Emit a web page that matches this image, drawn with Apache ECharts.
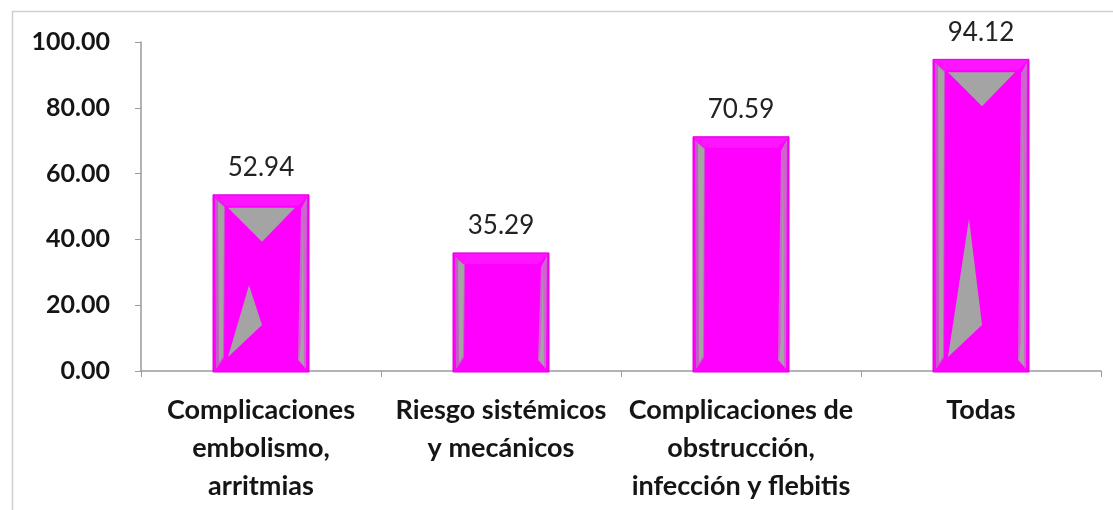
<!DOCTYPE html>
<html><head><meta charset="utf-8">
<script src="https://cdn.jsdelivr.net/npm/echarts@6/dist/echarts.min.js"></script>
<style>html,body{margin:0;padding:0;background:#fff}#c{width:1113px;height:510px}</style>
</head><body><div id="c"></div>
<script>
const categories = ['Complicaciones\nembolismo,\narritmias', 'Riesgo sistémicos\ny mecánicos', 'Complicaciones de\nobstrucción,\ninfección y flebitis', 'Todas'];
const values = [52.94, 35.29, 70.59, 94.12];
const yTicks = [0, 20, 40, 60, 80, 100];
const FONT = 'Lato';

const chart = echarts.init(document.getElementById('c'), null, {renderer: 'canvas'});

function renderItem(params, api) {
  const i = api.value(0);
  const v = api.value(1);
  const base = api.coord([i, 0]);
  const top = api.coord([i, v]);
  const bw = api.size([1, 0])[0] * 0.4;
  const x0 = base[0] - bw / 2, x1 = base[0] + bw / 2;
  const yb = base[1] + 1, yt = top[1] - 2;
  const h = yb - yt;
  const children = [
    {type: 'rect', shape: {x: x0, y: yt, width: bw, height: h}, style: {fill: '#ff00ff', stroke: '#e000e0', lineWidth: 1}},
    {type: 'polygon', shape: {points: [[x0 + 2, yt + 3], [x0 + 12, yt + 12], [x0 + 11, yb - 14], [x0 + 3, yb - 3]]}, style: {fill: '#c45cc4'}},
    {type: 'polygon', shape: {points: [[x0 + 5, yt + 7], [x0 + 11, yt + 12], [x0 + 10, yb - 16], [x0 + 6, yb - 9]]}, style: {fill: '#a4a4a4'}},
    {type: 'polygon', shape: {points: [[x1 - 2, yt + 3], [x1 - 8, yt + 14], [x1 - 11, yb - 12], [x1 - 3, yb - 3]]}, style: {fill: '#cc66cc'}},
    {type: 'polygon', shape: {points: [[x1 - 6, yt + 14], [x1 - 8, yb - 30], [x1 - 10, yb - 12], [x1 - 5, yb - 6]]}, style: {fill: '#a4a4a4'}},
    {type: 'polygon', shape: {points: [[x0 + 1, yt + 1], [x1 - 1, yt + 1], [x1 - 11, yt + 11], [x0 + 12, yt + 11]]}, style: {fill: '#ff14ff'}}
  ];
  if (i === 0 || i === 3) {
    children.push({type: 'polygon', shape: {points: [[x0 + 15, yt + 13], [x1 - 14, yt + 13], [(x0 + x1) / 2 + 1, yt + 47]]}, style: {fill: '#a4a4a4'}});
    children.push({type: 'polygon', shape: {points: [[x0 + 15, yb - 15], [x0 + 36, yb - h * 0.49], [(x0 + x1) / 2 + 1, yb - 47]]}, style: {fill: '#a4a4a4'}});
  }
  return {type: 'group', children: children};
}

chart.setOption({
  animation: false,
  backgroundColor: '#ffffff',
  graphic: [{type: 'rect', shape: {x: 12.5, y: 11.5, width: 1200, height: 600}, style: {fill: 'none', stroke: '#cfcfcf', lineWidth: 1.5}, silent: true}],
  grid: {left: 141, right: 12, top: 42, bottom: 139, containLabel: false},
  xAxis: {
    type: 'category', data: categories,
    axisLine: {lineStyle: {color: '#9a9a9a', width: 1.5}},
    axisTick: {show: true, length: 6, lineStyle: {color: '#9a9a9a'}},
    axisLabel: {fontFamily: FONT, fontWeight: 'bold', fontSize: 27, color: '#151515', lineHeight: 38, margin: 20, interval: 0}
  },
  yAxis: {
    type: 'value', min: 0, max: 100, interval: 20,
    axisLine: {show: true, lineStyle: {color: '#9a9a9a', width: 1.5}},
    axisTick: {show: true, length: 6, lineStyle: {color: '#9a9a9a'}},
    splitLine: {show: false},
    axisLabel: {fontFamily: FONT, fontWeight: 'bold', fontSize: 25, color: '#151515', margin: 31,
      formatter: v => yTicks.includes(v) ? v.toFixed(2) : ''}
  },
  series: [{
    type: 'custom',
    renderItem: renderItem,
    encode: {x: 0, y: 1},
    data: values.map((v, i) => [i, v]),
    z: 2
  }, {
    type: 'bar', data: values, barWidth: '40%', itemStyle: {color: 'rgba(0,0,0,0)'},
    label: {show: true, position: 'top', distance: 16, fontFamily: FONT, fontSize: 26, color: '#222',
      formatter: p => p.value.toFixed(2)},
    z: 3, silent: true
  }]
});
</script></body></html>
